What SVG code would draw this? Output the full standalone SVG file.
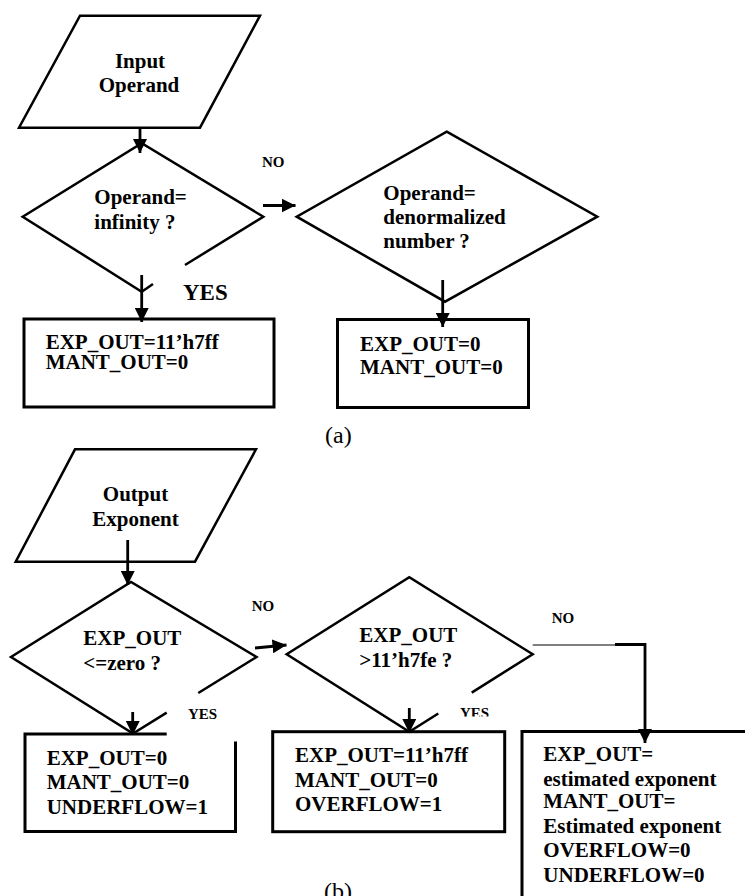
<svg xmlns="http://www.w3.org/2000/svg" width="745" height="896" viewBox="0 0 745 896">
<style>
.shape{fill:none;stroke:#000;stroke-width:2.5;stroke-linejoin:miter}
.box{fill:none;stroke:#000;stroke-width:3}
.conn{fill:none;stroke:#000;stroke-width:2.8}
.t{font-family:"Liberation Serif","Times New Roman",serif;font-weight:bold;font-size:21px;fill:#000}
.c{text-anchor:middle}
.s{font-size:15px}
.cap{font-family:"Liberation Serif","Times New Roman",serif;font-size:24px;fill:#000}
</style>
<defs>
<marker id="ah" markerUnits="userSpaceOnUse" markerWidth="15" markerHeight="14" refX="14" refY="7" orient="auto">
<path d="M0,0 L14,7 L0,14 Z" fill="#000"/>
</marker>
<clipPath id="yesclip"><rect x="440" y="690" width="80" height="26.5"/></clipPath>
</defs>
<rect width="745" height="896" fill="#fff"/>

<g id="input-operand">
<polygon class="shape" points="80,15.7 260,15.7 200,127.7 19,127.7"/>
<text class="t c" x="140" y="67.7">Input</text>
<text class="t c" x="139" y="91.7">Operand</text>
</g>

<g id="dec-infinity">
<path class="shape" d="M153,284 L141.7,291.7 L22.7,216.7 L141.7,143.3 L263.3,216.7 L185,265"/>
<text class="t" x="94.3" y="204">Operand=</text>
<text class="t" x="94.3" y="229">infinity ?</text>
</g>

<g id="dec-denorm">
<polygon class="shape" points="446.7,131.7 597.3,216.7 445,301.7 296.7,216.7"/>
<text class="t" x="383.3" y="200">Operand=</text>
<text class="t" x="383.3" y="224">denormalized</text>
<text class="t" x="383.3" y="248.3">number ?</text>
</g>

<g id="box-inf">
<rect class="box" x="24" y="319" width="250" height="88"/>
<text class="t" x="45.7" y="348.5">EXP_OUT=11’h7ff</text>
<text class="t" x="45.7" y="368.5">MANT_OUT=0</text>
</g>

<g id="box-denorm">
<rect class="box" x="337.5" y="319.5" width="191" height="88"/>
<text class="t" x="360" y="350.7">EXP_OUT=0</text>
<text class="t" x="360" y="374.3">MANT_OUT=0</text>
</g>

<g id="output-exponent">
<polygon class="shape" points="75,449.3 256,449.3 195,561.7 15.7,561.7"/>
<text class="t c" x="135.5" y="501">Output</text>
<text class="t c" x="135.5" y="526">Exponent</text>
</g>

<g id="dec-zero">
<path class="shape" d="M166.7,712.6 L133,733.5 L11,657 L131,582 L256.5,657 L198.3,693"/>
<text class="t" x="83.3" y="645">EXP_OUT</text>
<text class="t" x="83.3" y="670">&lt;=zero ?</text>
</g>

<g id="dec-overflow">
<path class="shape" d="M438.3,713.5 L409.3,731.7 L286.7,654.3 L409.3,577.3 L532.7,654.3 L471.7,692.6"/>
<text class="t" x="359.3" y="641.7">EXP_OUT</text>
<text class="t" x="359.3" y="666.7">&gt;11’h7fe ?</text>
</g>

<g id="box-underflow">
<path class="box" d="M166.7,734 L25,734 L25,831.5 L235.5,831.5 L235.5,741.5"/>
<text class="t" x="46.7" y="765">EXP_OUT=0</text>
<text class="t" x="46.7" y="789.3">MANT_OUT=0</text>
<text class="t" x="46.7" y="814.3">UNDERFLOW=1</text>
</g>

<g id="box-overflow">
<rect class="box" x="272.7" y="731.7" width="232" height="100"/>
<text class="t" x="295" y="761.7">EXP_OUT=11’h7ff</text>
<text class="t" x="295" y="786.7">MANT_OUT=0</text>
<text class="t" x="295" y="810.7">OVERFLOW=1</text>
</g>

<g id="box-estimated">
<path class="box" d="M522,900 L522,731.5 L750,731.5"/>
<text class="t" x="543.3" y="760.7">EXP_OUT=</text>
<text class="t" x="543.3" y="785.7">estimated exponent</text>
<text class="t" x="543.3" y="808.3">MANT_OUT=</text>
<text class="t" x="543.3" y="833.3">Estimated exponent</text>
<text class="t" x="543.3" y="857.3">OVERFLOW=0</text>
<text class="t" x="543.3" y="881.7">UNDERFLOW=0</text>
</g>

<g id="connectors">
<line class="conn" x1="140" y1="128" x2="140" y2="153" marker-end="url(#ah)"/>
<line class="conn" x1="263" y1="205.5" x2="295.5" y2="205.5" marker-end="url(#ah)"/>
<line class="conn" x1="141.7" y1="275" x2="141.7" y2="322" marker-end="url(#ah)"/>
<line class="conn" x1="442.7" y1="280" x2="442.7" y2="327" marker-end="url(#ah)"/>
<line class="conn" x1="127.7" y1="540" x2="127.7" y2="585" marker-end="url(#ah)"/>
<line class="conn" x1="255" y1="648" x2="286.5" y2="645" marker-end="url(#ah)"/>
<line class="conn" x1="132.7" y1="712" x2="132.7" y2="735" marker-end="url(#ah)"/>
<line class="conn" x1="409.3" y1="708" x2="409.3" y2="733" marker-end="url(#ah)"/>
<line x1="532.7" y1="645" x2="615" y2="645" stroke="#000" stroke-width="1.2"/>
<path class="conn" d="M615,644.5 L645,644.5 L645,743" marker-end="url(#ah)"/>
</g>

<g id="labels">
<text class="t s" x="262" y="167">NO</text>
<text class="t" x="183" y="300" style="font-size:23px">YES</text>
<text class="t s" x="251.7" y="610.7">NO</text>
<text class="t s" x="188" y="719.3">YES</text>
<text class="t s" x="460" y="717.5" clip-path="url(#yesclip)">YES</text>
<text class="t s" x="551.7" y="623.3">NO</text>
<text class="cap" x="325" y="443">(a)</text>
<text class="cap" x="324" y="899">(b)</text>
</g>
</svg>
